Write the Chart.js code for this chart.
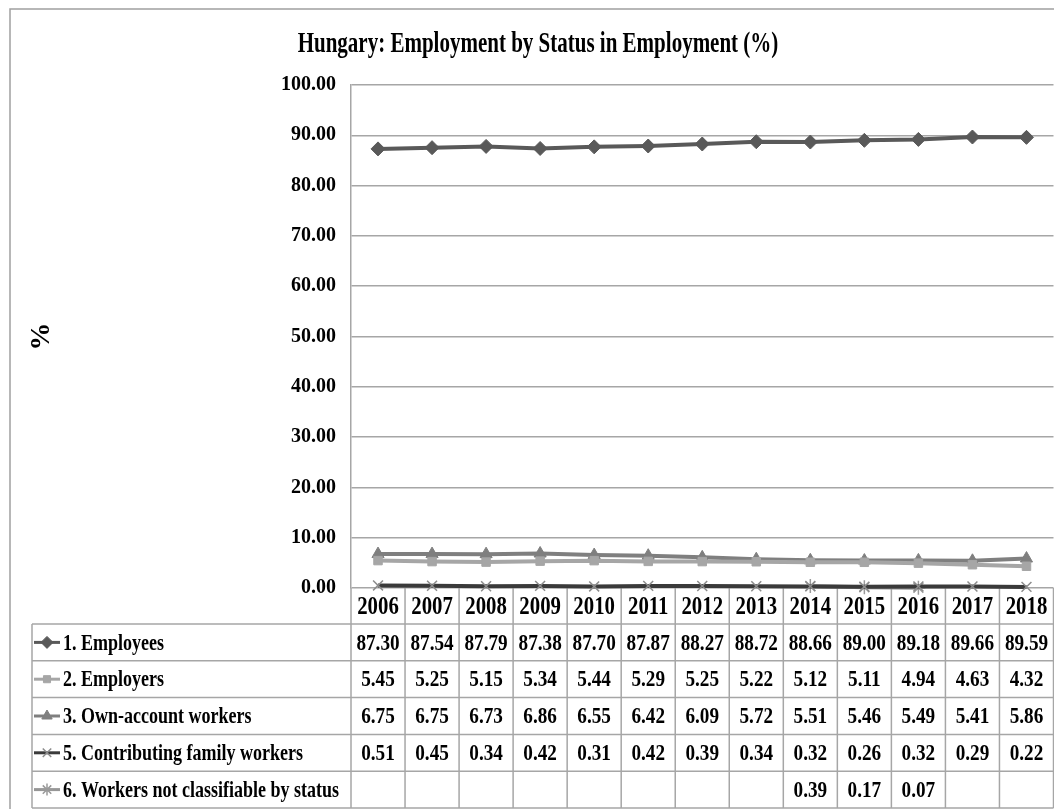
<!DOCTYPE html>
<html>
<head>
<meta charset="utf-8">
<title>Hungary: Employment by Status in Employment (%)</title>
<script src="https://cdn.jsdelivr.net/npm/chart.js@4.4.0/dist/chart.umd.min.js"></script>
<style>
    html, body { margin: 0; padding: 0; background: #fff; overflow: hidden; }
    #wrap { position: absolute; left: 0; top: 0; width: 1062px; height: 809px; }
</style>
</head>
<body>
<div id="wrap"><canvas id="statusChart" width="1062" height="809"></canvas></div>
<script>
const chartTitle = 'Hungary: Employment by Status in Employment (%)';
const years = ['2006', '2007', '2008', '2009', '2010', '2011', '2012', '2013', '2014', '2015', '2016', '2017', '2018'];
const employees = [87.30, 87.54, 87.79, 87.38, 87.70, 87.87, 88.27, 88.72, 88.66, 89.00, 89.18, 89.66, 89.59];
const employers = [5.45, 5.25, 5.15, 5.34, 5.44, 5.29, 5.25, 5.22, 5.12, 5.11, 4.94, 4.63, 4.32];
const ownAccount = [6.75, 6.75, 6.73, 6.86, 6.55, 6.42, 6.09, 5.72, 5.51, 5.46, 5.49, 5.41, 5.86];
const familyWorkers = [0.51, 0.45, 0.34, 0.42, 0.31, 0.42, 0.39, 0.34, 0.32, 0.26, 0.32, 0.29, 0.22];
const notClassifiable = [null, null, null, null, null, null, null, null, 0.39, 0.17, 0.07, null, null];
const seriesNames = [
    '1. Employees',
    '2. Employers',
    '3. Own-account workers',
    '5. Contributing family workers',
    '6. Workers not classifiable by status'
];
const yMin = 0;
const yMax = 100;
const yStep = 10;

const SERIF = "'Liberation Serif', 'Times New Roman', serif";
const GRID = '#a6a6a6';

// schmale (gestauchte) Schrift wie im Original
function narrowText(ctx, text, x, y, sx) {
    ctx.save();
    ctx.translate(x, y);
    ctx.scale(sx, 1);
    ctx.fillText(text, 0, 0);
    ctx.restore();
}

// Rahmen, Titel und Datentabelle unter dem Diagramm
const dataTablePlugin = {
    id: 'dataTable',
    beforeDraw(chart) {
        const ctx = chart.ctx;
        ctx.save();
        ctx.strokeStyle = '#a0a0a0';
        ctx.lineWidth = 1.5;
        ctx.strokeRect(10, 9, chart.width + 20, chart.height + 20);

        // Titel
        ctx.fillStyle = '#000';
        ctx.textAlign = 'center';
        ctx.textBaseline = 'alphabetic';
        ctx.font = 'bold 30px ' + SERIF;
        narrowText(ctx, chartTitle, chart.width / 2 + 7, 52, 0.7);
        ctx.restore();
    },
    beforeDatasetsDraw(chart) {
        const ctx = chart.ctx;
        const x = chart.scales.x;
        const area = chart.chartArea;
        const colW = x.getPixelForValue(1) - x.getPixelForValue(0);
        const tableLeft = 32;
        const headerH = 36;
        const rowH = 36.8;
        const edges = years.map((y, i) => x.getPixelForValue(i) - colW / 2);
        edges.push(x.getPixelForValue(years.length - 1) + colW / 2);
        const top = area.bottom;
        const bodyTop = top + headerH;
        const bottom = bodyTop + rowH * seriesNames.length;

        ctx.save();
        ctx.strokeStyle = GRID;
        ctx.lineWidth = 1.5;

        // Senkrechte Linien
        edges.forEach(ex => {
            ctx.beginPath();
            ctx.moveTo(ex, top);
            ctx.lineTo(ex, bottom);
            ctx.stroke();
        });
        ctx.beginPath();
        ctx.moveTo(tableLeft, bodyTop);
        ctx.lineTo(tableLeft, bottom);
        ctx.stroke();

        // Waagrechte Linien
        for (let r = 0; r <= seriesNames.length; r++) {
            const ly = bodyTop + r * rowH;
            ctx.beginPath();
            ctx.moveTo(tableLeft, ly);
            ctx.lineTo(edges[edges.length - 1], ly);
            ctx.stroke();
        }

        // Jahre
        ctx.fillStyle = '#000';
        ctx.textAlign = 'center';
        ctx.textBaseline = 'middle';
        ctx.font = 'bold 26px ' + SERIF;
        years.forEach((yr, i) => {
            narrowText(ctx, yr, x.getPixelForValue(i), top + headerH / 2 + 1, 0.8);
        });

        // Zeilen
        chart.data.datasets.forEach((ds, r) => {
            const cy = bodyTop + r * rowH + rowH / 2;
            // Legenden-Symbol
            ctx.strokeStyle = ds.borderColor;
            ctx.lineWidth = 3;
            ctx.beginPath();
            ctx.moveTo(tableLeft + 2, cy);
            ctx.lineTo(tableLeft + 28, cy);
            ctx.stroke();
            ctx.fillStyle = ds.pointBackgroundColor;
            ctx.strokeStyle = ds.pointBorderColor;
            ctx.lineWidth = ds.pointBorderWidth;
            Chart.helpers.drawPoint(ctx, {
                pointStyle: ds.pointStyle,
                radius: ds.pointRadius - 1,
                borderWidth: ds.pointBorderWidth,
                rotation: 0
            }, tableLeft + 15, cy);

            ctx.fillStyle = '#000';
            ctx.textAlign = 'left';
            ctx.font = 'bold 24px ' + SERIF;
            narrowText(ctx, ds.label, tableLeft + 31, cy + 1, 0.75);

            ctx.textAlign = 'center';
            ds.data.forEach((v, i) => {
                if (v === null) return;
                narrowText(ctx, v.toFixed(2), x.getPixelForValue(i), cy + 1, 0.8);
            });
        });
        ctx.restore();
    }
};

function makeSeries(label, data, color, style, radius, pointColor) {
    return {
        label: label,
        data: data,
        borderColor: color,
        backgroundColor: color,
        borderWidth: 4,
        pointStyle: style,
        pointRadius: radius,
        pointHoverRadius: radius,
        pointBackgroundColor: pointColor || color,
        pointBorderColor: pointColor || color,
        pointBorderWidth: style === 'crossRot' || style === 'star' ? 1.5 : 1,
        tension: 0,
        clip: false
    };
}

const ctx = document.getElementById('statusChart');
new Chart(ctx, {
    type: 'line',
    data: {
        labels: years,
        datasets: [
            makeSeries(seriesNames[0], employees, '#595959', 'rectRot', 7),
            makeSeries(seriesNames[1], employers, '#a6a6a6', 'rect', 6),
            makeSeries(seriesNames[2], ownAccount, '#7f7f7f', 'triangle', 7),
            makeSeries(seriesNames[3], familyWorkers, '#3a3a3a', 'crossRot', 7, '#8c8c8c'),
            makeSeries(seriesNames[4], notClassifiable, '#969696', 'star', 7, '#9a9a9a')
        ]
    },
    options: {
        responsive: false,
        animation: false,
        layout: {
            padding: { left: 20, right: 7, top: 85, bottom: 221 }
        },
        plugins: {
            legend: { display: false },
            tooltip: { enabled: false },
            title: { display: false }
        },
        scales: {
            x: {
                type: 'category',
                offset: true,
                display: false
            },
            y: {
                min: yMin,
                max: yMax,
                ticks: {
                    stepSize: yStep,
                    color: '#000',
                    padding: 15,
                    font: { family: SERIF, size: 20, weight: 'bold' },
                    callback: v => v.toFixed(2)
                },
                grid: {
                    color: GRID,
                    lineWidth: 1.5,
                    drawTicks: false
                },
                border: { color: GRID, width: 1.5 },
                title: {
                    display: true,
                    text: '%',
                    color: '#000',
                    font: { family: SERIF, size: 28, weight: 'bold' },
                    padding: { top: 5, bottom: 0 }
                },
                afterFit(scale) {
                    scale.width = 331;
                }
            }
        }
    },
    plugins: [dataTablePlugin]
});
</script>
</body>
</html>
